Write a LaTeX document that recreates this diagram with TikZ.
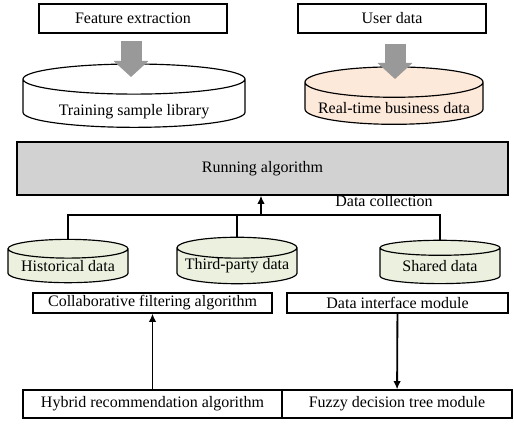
\documentclass[tikz,border=0pt]{standalone}
\usepackage{fontspec}
\setmainfont{Liberation Serif}
\usetikzlibrary{shapes.geometric,arrows.meta}
\definecolor{peach}{RGB}{253,233,217}
\definecolor{sage}{RGB}{235,241,222}
\newcommand{\sunk}[2]{\raisebox{-#1}[\height][\depth]{#2}}

\begin{document}
\begin{tikzpicture}[x=0.6pt,y=-0.6pt,font=\fontsize{9.6}{11}\selectfont,
  box/.style={draw,line width=0.7pt,inner sep=0pt},
  drum/.style={draw,line width=0.7pt,cylinder,shape border rotate=90,aspect=0.2,inner sep=0pt},
  fat/.style={line width=12.6pt,-{Triangle[length=9.6pt,width=20.4pt]},black!40},
  flow/.style={line width=1.1pt,-{Latex[length=5pt,width=4.5pt]}}]
\useasboundingbox (0,0) rectangle (514,424);

\node[box,minimum width=112.8pt,minimum height=17.4pt] (featext) at (133,18.5) {Feature extraction};
\node[box,minimum width=112.8pt,minimum height=17.4pt] (userdata) at (392,18.5) {User data};
\node[drum,minimum width=133.2pt,minimum height=38pt] (trainlib) at (134,103.5) {\sunk{5pt}{Training sample library}};
\node[drum,fill=peach,minimum width=106.8pt,minimum height=34pt] (realtime) at (394,103.5) {\sunk{2.5pt}{Real-time business data}};

\node[box,fill=gray!35,minimum width=294.6pt,minimum height=31.8pt] (running) at (262.5,168.5) {Running algorithm};

\node[drum,fill=sage,minimum width=72pt,minimum height=26pt] (histdata) at (68,266) {Historical data};
\node[drum,fill=sage,minimum width=72pt,minimum height=26pt] (thirddata) at (237,266) {Third-party data};
\node[drum,fill=sage,minimum width=72pt,minimum height=26pt] (shareddata) at (440,266) {Shared data};
\node (collectlbl) at (384,201) {Data collection};

\node[box,minimum width=143.4pt,minimum height=12pt] (collabfilt) at (152.5,303) {Collaborative filtering algorithm};
\node[box,minimum width=132.6pt,minimum height=12pt] (interface) at (397.5,303) {Data interface module};
\node[box,minimum width=155.4pt,minimum height=16.8pt] (hybrid) at (152.5,404) {Hybrid recommendation algorithm};
\node[box,minimum width=138pt,minimum height=16.8pt] (fuzzytree) at (397,404) {Fuzzy decision tree module};

\coordinate (collect) at (261,215);
\coordinate (trainin) at (131,77);
\coordinate (realin) at (395,79);

\draw[fat] (featext.south -| trainin) ++(0,7) -- (trainin);
\draw[fat] (userdata.south -| realin) ++(0,10) -- (realin);

\foreach \from in {histdata, thirddata, shareddata}
	\draw[line width=1.1pt] (\from.top) |- (collect);
\draw[flow] (collect) -- (collect |- running.south);

\draw[flow] (hybrid) -- (collabfilt);
\draw[flow] (interface) -- (fuzzytree);

\end{tikzpicture}
\end{document}
